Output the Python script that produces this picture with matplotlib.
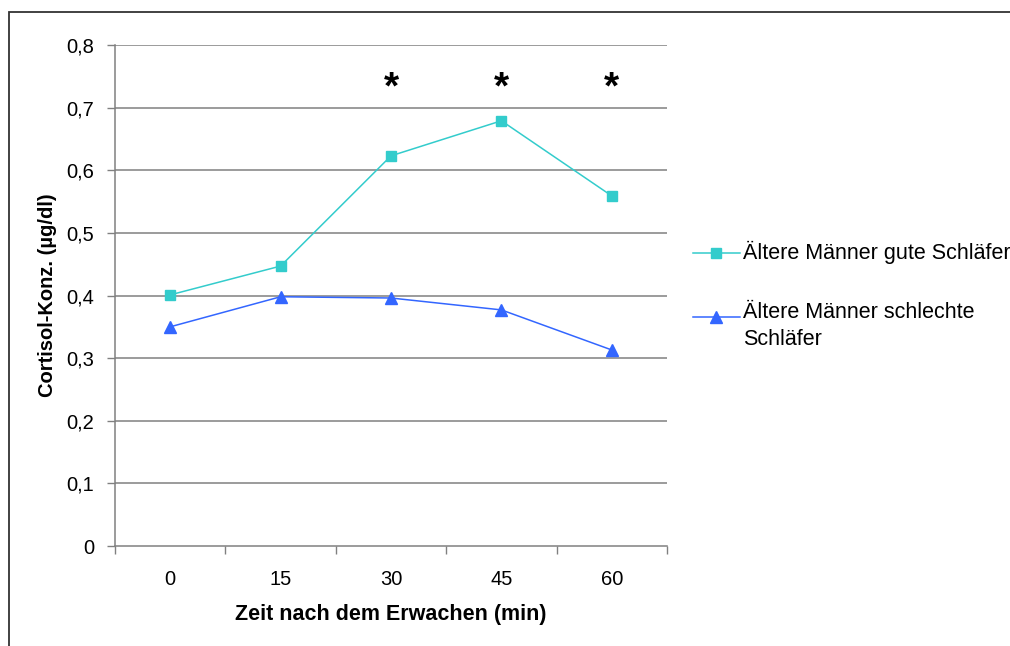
import matplotlib
matplotlib.use("Agg")
import matplotlib.pyplot as plt
from matplotlib.lines import Line2D
from matplotlib.patches import Rectangle

plt.rcParams['font.family'] = ['Liberation Sans', 'DejaVu Sans']

categories = ["0", "15", "30", "45", "60"]
good_sleepers = [0.401, 0.447, 0.623, 0.679, 0.559]
bad_sleepers = [0.350, 0.398, 0.396, 0.377, 0.313]
significant = ["30", "45", "60"]
yticks = [0, 0.1, 0.2, 0.3, 0.4, 0.5, 0.6, 0.7, 0.8]
ytick_labels = ["0", "0,1", "0,2", "0,3", "0,4", "0,5", "0,6", "0,7", "0,8"]
label_good = "Ältere Männer gute Schläfer"
label_bad = "Ältere Männer schlechte\nSchläfer"

c_good = "#33CCCC"
c_bad = "#3366FF"
grey = "#808080"

fig = plt.figure(figsize=(10.1, 6.46), dpi=100)
fig.patch.set_facecolor("white")
# outer frame
fig.add_artist(Rectangle((8.5 / 1010, -0.1), 1.2, 1.1 - 11.5 / 646, transform=fig.transFigure,
                         fill=False, edgecolor="#333333", linewidth=1.3))

ax = fig.add_axes([115 / 1010, 100 / 646, 552 / 1010, 501 / 646])
x = list(range(len(categories)))

ax.plot(x, good_sleepers, color=c_good, marker="s", markersize=7, linewidth=1.1, zorder=3)
ax.plot(x, bad_sleepers, color=c_bad, marker="^", markersize=8, linewidth=1.1, zorder=3)

for cat in significant:
    ax.text(categories.index(cat), 0.73, "*", ha="center", va="center",
            fontsize=28, fontweight="bold", color="black")

ax.set_xlim(-0.5, len(categories) - 0.5)
ax.set_ylim(0, 0.8)
ax.set_yticks(yticks)
ax.set_yticklabels(ytick_labels)
ax.set_xticks(x)
ax.set_xticklabels(categories)
ax.set_xticks([i - 0.5 for i in range(len(categories) + 1)], minor=True)
ax.tick_params(axis="x", which="major", length=0, pad=17, labelsize=14.5)
ax.tick_params(axis="x", which="minor", length=6, color=grey, width=1)
ax.tick_params(axis="y", length=6, color=grey, width=1, labelsize=14.5, pad=9)

for y in yticks[1:]:
    ax.axhline(y, color=grey, linewidth=1.1, zorder=1)

for s in ["top", "right"]:
    ax.spines[s].set_visible(False)
for s in ["left", "bottom"]:
    ax.spines[s].set_color(grey)
    ax.spines[s].set_linewidth(1.1)

ax.set_xlabel("Zeit nach dem Erwachen (min)", fontsize=15.5, fontweight="bold", labelpad=11)
ax.set_ylabel("Cortisol-Konz. (µg/dl)", fontsize=14.5, fontweight="bold", labelpad=7)

# legend drawn manually
def fx(px):
    return px / 1010

def fy(py):
    return 1 - py / 646

for color, marker, ms, ypx, label, tpy in [
    (c_good, "s", 7, 253, label_good, 252),
    (c_bad, "^", 8, 317, label_bad, 326),
]:
    fig.add_artist(Line2D([fx(693), fx(740)], [fy(ypx), fy(ypx)], color=color,
                          linewidth=1.1, transform=fig.transFigure))
    fig.add_artist(Line2D([fx(716)], [fy(ypx)], color=color, marker=marker,
                          markersize=ms, transform=fig.transFigure))
    fig.text(fx(743), fy(tpy), label, fontsize=15.5, va="center", ha="left",
             linespacing=1.4)

fig.savefig("out.png", dpi=100, facecolor="white")
